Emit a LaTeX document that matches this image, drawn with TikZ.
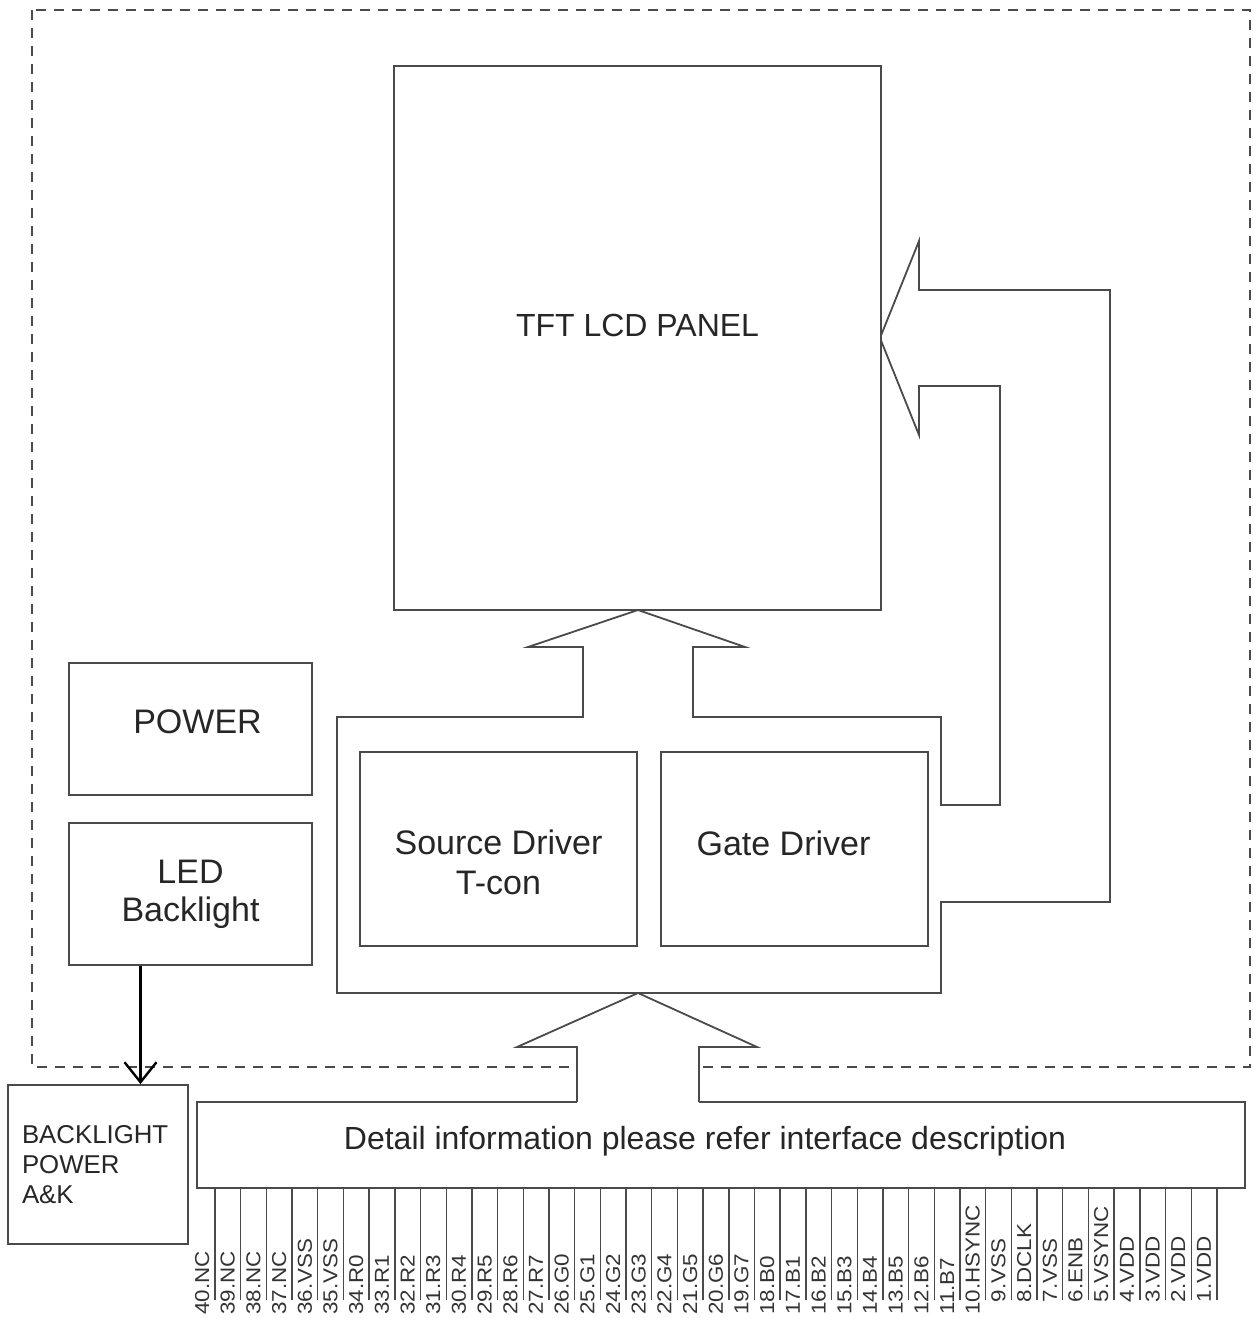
\documentclass[tikz,border=0pt]{standalone}
\usepackage{fontspec}
\setmainfont{Liberation Sans}
\usepackage{graphicx}
\usetikzlibrary{arrows.meta}
\definecolor{wire}{HTML}{4A4A4A}
\tikzset{
  box/.style={draw=wire, line width=0.9pt, fill=white, inner sep=0pt},
  txt/.style={font=\fontsize{17}{20}\selectfont, align=center, text=black!85},
  pinlbl/.style={rotate=90, anchor=base west, inner sep=0pt, font=\fontsize{11.2}{12}\selectfont, text=black!80},
}

\begin{document}
\begin{tikzpicture}[x=0.5pt, y=-0.5pt]
  \useasboundingbox (0,0) rectangle (1255,1318);
  % dashed module outline
  \draw[wire, line width=0.7pt, dash pattern=on 5pt off 4pt] (32,10) rectangle (1250,1067);
  % driver frame with the block arrows into the panel
  \draw[wire, line width=0.9pt, fill=white] (337,717) -- (583,717) -- (583,647) -- (528,647) -- (638,610) -- (745,647) -- (693,647) -- (693,717) -- (941,717) -- (941,805) -- (1000,805) -- (1000,386) -- (919,386) -- (919,435) -- (880,338) -- (919,241) -- (919,290) -- (1110,290) -- (1110,902) -- (941,902) -- (941,993) -- (337,993) -- cycle;

  \node[box, minimum width=243.5pt, minimum height=272pt, label={[txt, font=\fontsize{16}{19}\selectfont, yshift=6.5pt]center:TFT LCD PANEL}] (panel) at (637.5,338) {};
  \node[box, minimum width=138.5pt, minimum height=97pt, label={[txt, yshift=-6.5pt]center:Source Driver\\T-con}] (source) at (498.5,849) {};
  \node[box, minimum width=133.5pt, minimum height=97pt, label={[txt, xshift=-5.5pt, yshift=3pt]center:Gate Driver}] (gate) at (794.5,849) {};
  \node[box, minimum width=121.5pt, minimum height=66pt, label={[txt, xshift=3.5pt, yshift=3.5pt]center:POWER}] (power) at (190.5,729) {};
  \node[box, txt, minimum width=121.5pt, minimum height=71pt, font=\fontsize{17}{19}\selectfont] (led) at (190.5,894) {LED\\Backlight};
  \node[box, minimum width=90pt, minimum height=79.5pt, text width=76pt, inner xsep=7pt, align=left, text=black!85, font=\fontsize{12.9}{15}\selectfont] (blpower) at (98,1164.5) {BACKLIGHT\\POWER\\A\&K};
  \node[box, minimum width=524pt, minimum height=43pt, label={[txt, font=\fontsize{16}{19}\selectfont, xshift=-8pt, yshift=2pt]center:Detail information please refer interface description}] (iface) at (721,1145) {};

  % block arrow from the connector into the driver frame
  \fill[white] (577,1104) -- (577,1047) -- (517,1047) -- (638,993) -- (757,1047) -- (699,1047) -- (699,1104) -- cycle;
  \draw[wire, line width=0.9pt] (577,1102) -- (577,1047) -- (517,1047) -- (638,993) -- (757,1047) -- (699,1047) -- (699,1102);

  % backlight supply
  \draw[line width=1.2pt, -{Straight Barb[length=10pt, width=16pt]}] ([xshift=-25pt]led.south) -- ([xshift=-25pt]led.south |- blpower.north);

  % connector pins
  \foreach \sig [count=\i] in {NC,NC,NC,NC,VSS,VSS,R0,R1,R2,R3,R4,R5,R6,R7,G0,G1,G2,G3,G4,G5,G6,G7,B0,B1,B2,B3,B4,B5,B6,B7,HSYNC,VSS,DCLK,VSS,ENB,VSYNC,VDD,VDD,VDD,VDD} {
    \pgfmathtruncatemacro\pin{41-\i}
    \pgfmathsetmacro\xpin{215+(\i-1)*25.69}
    \coordinate (p\pin) at (\xpin,1300);
    \draw[wire, line width=0.7pt] (p\pin |- iface.south) -- (p\pin);
    \node[pinlbl] (lbl\pin) at ([xshift=-3pt]\xpin,1315) {\scalebox{1}[0.9]{\ifnum\pin<10 \phantom{0}\fi\pin.\sig}};
  }
\end{tikzpicture}
\end{document}
